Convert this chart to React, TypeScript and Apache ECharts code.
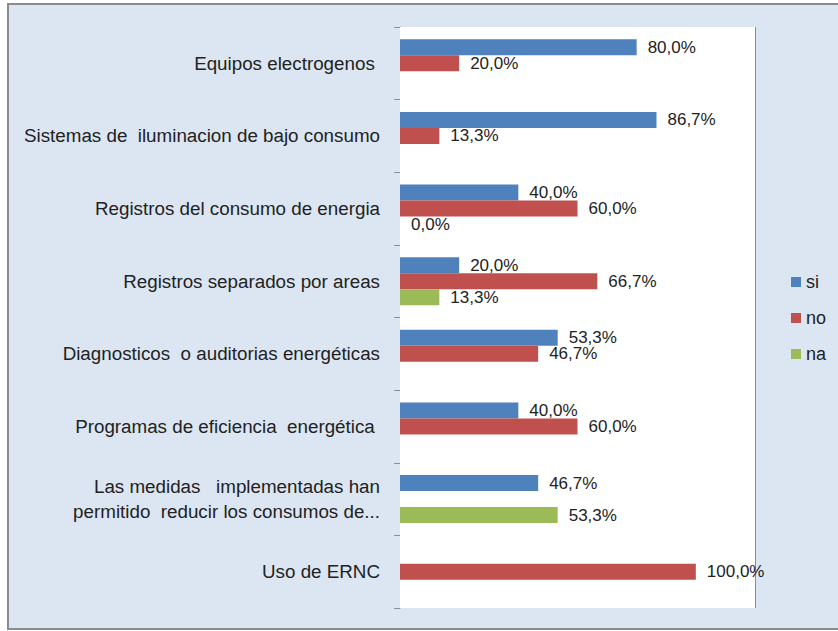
import React, { useEffect, useRef } from "react";
import * as echarts from "echarts";

const categories = [
  "Equipos electrogenos ",
  "Sistemas de  iluminacion de bajo consumo",
  "Registros del consumo de energia",
  "Registros separados por areas",
  "Diagnosticos  o auditorias energéticas",
  "Programas de eficiencia  energética ",
  "Las medidas   implementadas han\npermitido  reducir los consumos de...",
  "Uso de ERNC",
];

const seriesNames = ["si", "no", "na"];
const siValues = [80.0, 86.7, 40.0, 20.0, 53.3, 40.0, 46.7, null];
const noValues = [20.0, 13.3, 60.0, 66.7, 46.7, 60.0, null, 100.0];
const naValues = [null, null, 0.0, 13.3, null, null, 53.3, null];
const colors = ["#4f81bd", "#c0504d", "#9bbb59"];

const axisMin = 0;
const axisMax = 120;
const axisStep = 20;

const FONT = "'Liberation Sans', Arial, sans-serif";

export default function App() {
  const ref = useRef<HTMLDivElement>(null);

  useEffect(() => {
    if (!ref.current) return;
    const chart = echarts.init(ref.current, null, { renderer: "svg" });
    const fmt = (p: any) =>
      Number(p.value).toFixed(1).replace(".", ",") + "%";
    const allValues = [siValues, noValues, naValues];
    chart.setOption({
      animation: false,
      backgroundColor: "#ffffff",
      textStyle: { fontFamily: FONT },
      graphic: [
        {
          type: "rect",
          z: -10,
          shape: { x: 8, y: 4, width: 840, height: 625 },
          style: { fill: "#dce6f2", stroke: "#8c8c8c", lineWidth: 2 },
          silent: true,
        },
      ],
      grid: {
        left: 400,
        right: 83,
        top: 27,
        bottom: 23,
        show: true,
        backgroundColor: "#ffffff",
        borderWidth: 0,
        z: 1,
      },
      legend: {
        orient: "vertical",
        left: 786,
        top: 268,
        itemWidth: 10,
        itemHeight: 10,
        itemGap: 18,
        icon: "rect",
        data: seriesNames,
        textStyle: { fontSize: 18, color: "#222", fontFamily: FONT },
      },
      xAxis: {
        type: "value",
        min: axisMin,
        max: axisMax,
        interval: axisStep,
        axisLabel: { show: false },
        axisLine: { show: false },
        axisTick: { show: false },
        splitLine: { show: true, lineStyle: { color: "#8c8c8c", width: 1 } },
      },
      yAxis: {
        type: "category",
        inverse: true,
        data: categories,
        axisLine: { show: true, lineStyle: { color: "#8c8c8c", width: 1 } },
        axisTick: { show: true, length: 6, lineStyle: { color: "#8c8c8c" } },
        axisLabel: {
          margin: 20,
          fontSize: 18.8,
          lineHeight: 25,
          color: "#222",
          fontFamily: FONT,
        },
      },
      series: seriesNames.map((name, i) => ({
        name,
        type: "bar",
        data: allValues[i],
        barGap: "0%",
        barCategoryGap: "34%",
        itemStyle: { color: colors[i] },
        label: {
          show: true,
          position: "right",
          distance: 11,
          formatter: fmt,
          fontSize: 17,
          lineHeight: 15,
          color: "#222",
          fontFamily: FONT,
        },
        z: 3,
      })),
    });
    return () => chart.dispose();
  }, []);

  return (
    <div
      ref={ref}
      style={{ position: "fixed", left: 0, top: 0, width: 838, height: 631 }}
    />
  );
}
